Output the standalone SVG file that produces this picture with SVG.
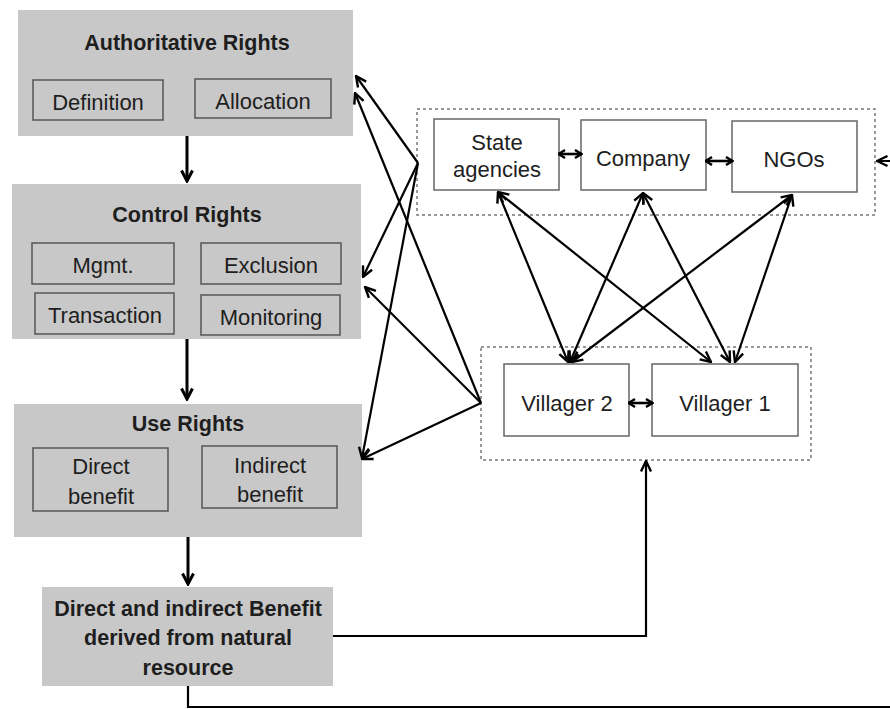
<svg xmlns="http://www.w3.org/2000/svg" width="890" height="709" viewBox="0 0 890 709">
<style>
  .panel { fill: #c8c8c8; }
  .inner { fill: none; stroke: #555; stroke-width: 1.5; }
  .node { fill: #fff; stroke: #666; stroke-width: 1.5; }
  .group { fill: none; stroke: #777; stroke-width: 1.5; stroke-dasharray: 3 3; }
  text { font-family: "Liberation Sans", Arial, sans-serif; font-size: 22px; fill: #1e1e1e; text-anchor: middle; }
  .title { font-weight: bold; font-size: 21.5px; }
  .cd { fill: none; stroke: #000; stroke-width: 2.2; marker-start: url(#ah); marker-end: url(#ah); }
  .ck { fill: none; stroke: #000; stroke-width: 2.6; marker-start: url(#ahs); marker-end: url(#ahs); }
  .cs { fill: none; stroke: #000; stroke-width: 2.2; marker-end: url(#ah); }
  .down { fill: none; stroke: #000; stroke-width: 3; marker-end: url(#ahb); }
</style>
<defs>
  <marker id="ah" viewBox="0 0 13 13" refX="12" refY="6.5" markerWidth="13" markerHeight="13" markerUnits="userSpaceOnUse" orient="auto-start-reverse">
    <path d="M1.5,1.5 L12,6.5 L1.5,11.5" fill="none" stroke="#000" stroke-width="2.4" stroke-linejoin="miter"/>
  </marker>
  <marker id="ahs" viewBox="0 0 9 10" refX="8.5" refY="5" markerWidth="9" markerHeight="10" markerUnits="userSpaceOnUse" orient="auto-start-reverse">
    <path d="M1.5,1 L8,5 L1.5,9" fill="none" stroke="#000" stroke-width="2.4"/>
  </marker>
  <marker id="ahb" viewBox="0 0 14 14" refX="12.5" refY="7" markerWidth="14" markerHeight="14" markerUnits="userSpaceOnUse" orient="auto">
    <path d="M2,1.5 L12.5,7 L2,12.5" fill="none" stroke="#000" stroke-width="3"/>
  </marker>
</defs>
<rect width="890" height="709" fill="#fff"/>

<g id="authoritative-rights">
  <rect class="panel" x="18" y="10" width="335" height="126"/>
  <text class="title" x="187" y="50">Authoritative Rights</text>
  <rect class="inner" x="33" y="80" width="130" height="40"/>
  <text x="98" y="110">Definition</text>
  <rect class="inner" x="195" y="79" width="136" height="39"/>
  <text x="263" y="109">Allocation</text>
</g>

<g id="control-rights">
  <rect class="panel" x="12" y="184" width="349" height="155"/>
  <text class="title" x="187" y="222">Control Rights</text>
  <rect class="inner" x="32" y="243" width="142" height="41"/>
  <text x="103" y="273">Mgmt.</text>
  <rect class="inner" x="201" y="243" width="140" height="41"/>
  <text x="271" y="273">Exclusion</text>
  <rect class="inner" x="35" y="293" width="139" height="41"/>
  <text x="105" y="323">Transaction</text>
  <rect class="inner" x="201" y="295" width="139" height="40"/>
  <text x="271" y="325">Monitoring</text>
</g>

<g id="use-rights">
  <rect class="panel" x="14" y="404" width="348" height="133"/>
  <text class="title" x="188" y="431">Use Rights</text>
  <rect class="inner" x="33" y="448" width="135" height="63"/>
  <text x="101" y="474">Direct</text>
  <text x="101" y="504">benefit</text>
  <rect class="inner" x="202" y="446" width="135" height="62"/>
  <text x="270" y="473">Indirect</text>
  <text x="270" y="502">benefit</text>
</g>

<g id="benefit">
  <rect class="panel" x="42" y="587" width="291" height="99"/>
  <text class="title" x="188" y="616">Direct and indirect Benefit</text>
  <text class="title" x="188" y="645">derived from natural</text>
  <text class="title" x="188" y="675">resource</text>
</g>

<g id="actors-group">
  <rect class="group" x="417" y="109" width="458" height="106"/>
</g>
<g id="state-agencies">
  <rect class="node" x="434" y="119" width="125" height="71"/>
  <text x="497" y="150">State</text>
  <text x="497" y="177">agencies</text>
</g>
<g id="company">
  <rect class="node" x="581" y="120" width="125" height="70"/>
  <text x="643" y="166">Company</text>
</g>
<g id="ngos">
  <rect class="node" x="732" y="121" width="125" height="71"/>
  <text x="794" y="167">NGOs</text>
</g>

<g id="villagers-group">
  <rect class="group" x="481" y="347" width="330" height="113"/>
</g>
<g id="villager-2">
  <rect class="node" x="504" y="364" width="125" height="72"/>
  <text x="567" y="411">Villager 2</text>
</g>
<g id="villager-1">
  <rect class="node" x="652" y="364" width="146" height="72"/>
  <text x="725" y="411">Villager 1</text>
</g>

<g id="connectors">
  <line class="down" x1="187" y1="136" x2="187" y2="181"/>
  <line class="down" x1="187" y1="339" x2="187" y2="399"/>
  <line class="down" x1="188" y1="537" x2="188" y2="584"/>

  <line class="ck" x1="558" y1="154" x2="582" y2="154"/>
  <line class="ck" x1="705" y1="161" x2="733" y2="161"/>
  <line class="ck" x1="628" y1="403" x2="653" y2="403"/>

  <line class="cd" x1="498" y1="192" x2="568" y2="362"/>
  <line class="cd" x1="498" y1="192" x2="711" y2="362"/>
  <line class="cd" x1="643" y1="193" x2="570" y2="362"/>
  <line class="cd" x1="643" y1="193" x2="730" y2="362"/>
  <line class="cd" x1="792" y1="195" x2="572" y2="362"/>
  <line class="cd" x1="792" y1="195" x2="735" y2="362"/>

  <line class="cs" x1="418" y1="163" x2="356" y2="76"/>
  <line class="cs" x1="481" y1="403" x2="355" y2="93"/>
  <line class="cs" x1="418" y1="163" x2="363" y2="277"/>
  <line class="cs" x1="481" y1="403" x2="365" y2="287"/>
  <line class="cs" x1="418" y1="163" x2="362" y2="458"/>
  <line class="cs" x1="481" y1="403" x2="362" y2="459"/>

  <path class="cs" d="M333,636 H646 V461"/>
  <path class="cs" d="M188,686 V707 H900 V161 H877"/>
</g>
</svg>
